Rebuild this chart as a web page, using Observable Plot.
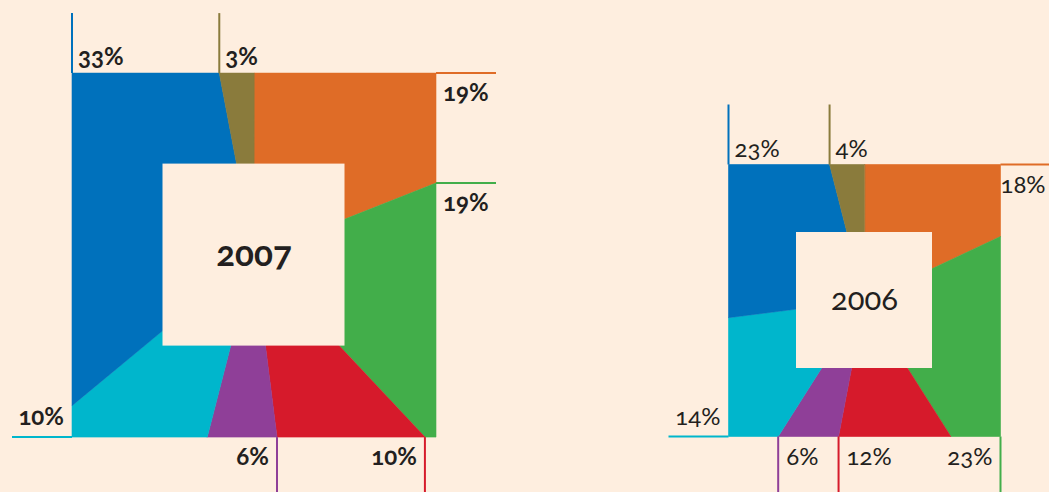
<!DOCTYPE html>
<html>
<head>
<meta charset="utf-8">
<script src="https://cdn.jsdelivr.net/npm/d3@7"></script>
<script src="https://cdn.jsdelivr.net/npm/@observablehq/plot@0.6"></script>
<style>
  html, body { margin: 0; padding: 0; background: #feeedf; }
  svg { display: block; font-variant-numeric: oldstyle-nums; font-feature-settings: "onum" 1; }
</style>
</head>
<body>
<div id="chart"></div>
<script>
// ---- data (clockwise from 12 o'clock) ----
const categories = ["Orange", "Green", "Red", "Purple", "Cyan", "Blue", "Brown"];
const colors = ["#df6c27", "#42ae4a", "#d61a2b", "#8f3f98", "#00b6cc", "#0071bc", "#8a7b3c"];
const years = ["2007", "2006"];
const values2007 = [19, 19, 10, 6, 10, 33, 3];
const values2006 = [18, 23, 12, 6, 14, 23, 4];
// where each slice's leader line is attached: slice start, slice end, or the corner inside it
const labelAt2007 = ["corner", "start", "start", "start", "corner", "corner", "start"];
const labelAt2006 = ["corner", "corner", "end", "end", "corner", "corner", "start"];

// ---- layout ----
const W = 1049, H = 492;
const FONT = "Lato, 'Open Sans', sans-serif";
const layout = [
  {cx: 253.5, cy: 254.6, half: 182, weight: "bold", labelSize: 24, titleSize: 35},
  {cx: 864, cy: 300, half: 136, weight: "normal", labelSize: 24, titleSize: 31}
];
const LEADER = 60;
const series = [values2007, values2006];
const labelModes = [labelAt2007, labelAt2006];

const ctx = document.createElement("canvas").getContext("2d");
function textWidth(t, size, weight) {
  ctx.font = `${weight} ${size}px ${FONT}`;
  return ctx.measureText(t).width;
}

function pointAt(a, L) {
  const r = a * Math.PI / 180;
  const dx = Math.sin(r), dy = -Math.cos(r);
  const k = L.half / Math.max(Math.abs(dx), Math.abs(dy));
  return [L.cx + dx * k, L.cy + dy * k];
}
function edgeOf(a) {
  a = ((a % 360) + 360) % 360;
  if (a >= 315 || a < 45) return "top";
  if (a < 135) return "right";
  if (a < 225) return "bottom";
  return "left";
}
const corners = [45, 135, 225, 315];

const polys = [], boxes = [], titles = [], leaders = [], labels = [];
series.forEach((vals, ci) => {
  const L = layout[ci];
  const total = d3.sum(vals);
  let acc = 0;
  vals.forEach((v, i) => {
    const a0 = acc / total * 360, a1 = (acc + v) / total * 360;
    acc += v;
    const key = years[ci] + "-" + categories[i];
    const pts = [[L.cx, L.cy], pointAt(a0, L)];
    corners.filter(c => c > a0 && c < a1).forEach(c => pts.push(pointAt(c, L)));
    pts.push(pointAt(a1, L));
    pts.forEach(([x, y]) => polys.push({key, x, y, color: colors[i]}));

    // leader attachment
    const mode = labelModes[ci][i];
    let ang, s;
    if (mode === "corner") { ang = corners.find(c => c > a0 && c < a1); s = 1; }
    else if (mode === "start") { ang = a0; s = 1; }
    else { ang = a1; s = -1; }
    const [px, py] = pointAt(ang, L);
    const edge = mode === "corner" ? edgeOf(ang + 1) : edgeOf(s > 0 ? ang + 0.01 : ang - 0.01);
    const top = L.cy - L.half, bottom = L.cy + L.half, left = L.cx - L.half, right = L.cx + L.half;
    const lab = {text: v + "%", weight: L.weight, size: L.labelSize};
    const tw = textWidth(lab.text, L.labelSize, L.weight);
    let ld;
    if (edge === "top") {
      ld = {x1: px, y1: top, x2: px, y2: top - LEADER};
      Object.assign(lab, {x: px + s * 6, y: top - 8, anchor: s > 0 ? "start" : "end"});
    } else if (edge === "right") {
      ld = {x1: right, y1: py, x2: right + LEADER, y2: py};
      Object.assign(lab, {x: Math.min(right + 7, W - 2 - tw), y: s > 0 ? py + 28 : py - 8, anchor: "start"});
    } else if (edge === "bottom") {
      ld = {x1: px, y1: bottom, x2: px, y2: bottom + LEADER};
      Object.assign(lab, {x: px - s * 8, y: bottom + 28, anchor: s > 0 ? "end" : "start"});
    } else {
      ld = {x1: left, y1: py, x2: left - LEADER, y2: py};
      Object.assign(lab, {x: left - 8, y: s > 0 ? py - 12 : py + 24, anchor: "end"});
    }
    ld.color = colors[i];
    leaders.push(ld);
    labels.push(lab);
  });
  boxes.push({x1: L.cx - L.half / 2, x2: L.cx + L.half / 2, y1: L.cy - L.half / 2, y2: L.cy + L.half / 2});
  titles.push({x: L.cx, y: L.cy, text: years[ci], weight: L.weight, size: L.titleSize});
});

const textMarks = [];
for (const w of ["bold", "normal"]) {
  for (const sz of [...new Set(labels.map(d => d.size))]) {
    for (const anc of ["start", "end"]) {
      const dd = labels.filter(d => d.weight === w && d.size === sz && d.anchor === anc);
      if (dd.length) textMarks.push(Plot.text(dd, {
        x: "x", y: "y", text: "text", textAnchor: anc, lineAnchor: "bottom",
        fontSize: sz, fontWeight: w, fill: "#231f20"
      }));
    }
  }
  const tt = titles.filter(d => d.weight === w);
  if (tt.length) textMarks.push(Plot.text(tt, {
    x: "x", y: "y", text: "text", textAnchor: "middle", lineAnchor: "middle",
    fontSize: tt[0].size, fontWeight: w, fill: "#231f20"
  }));
}

const plot = Plot.plot({
  width: W, height: H,
  margin: 0,
  x: {domain: [0, W], range: [0, W], axis: null},
  y: {domain: [0, H], range: [0, H], axis: null},
  style: {background: "#feeedf", fontFamily: FONT, overflow: "hidden"},
  marks: [
    Plot.line(polys, {x: "x", y: "y", z: "key", fill: "color", stroke: "color", strokeWidth: 0.6, curve: "linear-closed"}),
    Plot.rect(boxes, {x1: "x1", x2: "x2", y1: "y1", y2: "y2", fill: "#feeedf"}),
    Plot.link(leaders, {x1: "x1", y1: "y1", x2: "x2", y2: "y2", stroke: "color", strokeWidth: 2}),
    ...textMarks
  ]
});
document.getElementById("chart").appendChild(plot);
</script>
</body>
</html>
